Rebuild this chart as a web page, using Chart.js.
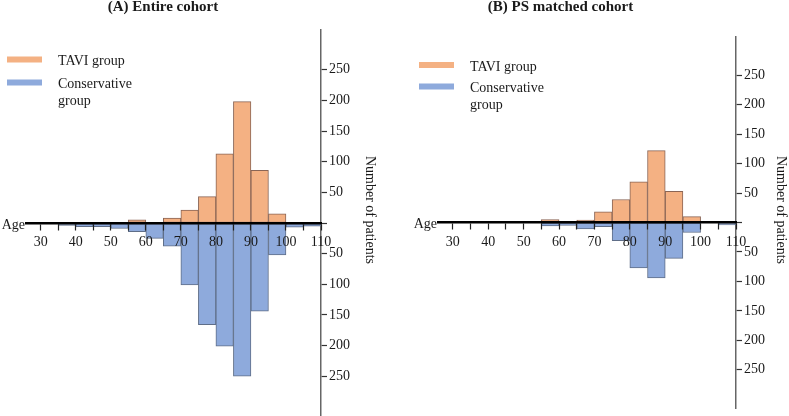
<!DOCTYPE html>
<html>
<head>
<meta charset="utf-8">
<script src="https://cdn.jsdelivr.net/npm/chart.js@4.4.1/dist/chart.umd.min.js"></script>
<style>
  html, body { margin: 0; padding: 0; background: #fff; overflow: hidden; }
  #wrap { position: relative; width: 789px; height: 416px; }
  .panel { position: absolute; top: 0; width: 394px; height: 416px; }
</style>
</head>
<body>
<div id="wrap">
  <div class="panel" style="left:0"><canvas id="chartA" width="394" height="416"></canvas></div>
  <div class="panel" style="left:395px"><canvas id="chartB" width="394" height="416"></canvas></div>
</div>
<script>
/* age bins are 5 years wide, value = bin midpoint */
const ageMid = [37.5, 42.5, 47.5, 52.5, 57.5, 62.5, 67.5, 72.5, 77.5, 82.5, 87.5, 92.5, 97.5, 102.5, 107.5];

// (A) entire cohort, patients per bin
const taviA = [0, 0, 0, 0, 5, 0, 8, 21, 43, 113, 198, 86, 15, 0, 0];
const consA = [4, 6, 6, 9, 14, 25, 38, 101, 166, 201, 250, 144, 52, 7, 5];

// (B) PS matched cohort
const taviB = [0, 0, 0, 0, 5, 0, 4, 18, 39, 69, 122, 53, 10, 0, 0];
const consB = [0, 0, 0, 0, 6, 5, 11, 7, 31, 77, 94, 61, 17, 0, 4];

const yTicks = [-250, -200, -150, -100, -50, 0, 50, 100, 150, 200, 250];
const xTicks = [30, 35, 40, 45, 50, 55, 60, 65, 70, 75, 80, 85, 90, 95, 100, 105, 110];

const SERIF = "'Liberation Serif', 'Times New Roman', serif";
const INK = "#1a1a1a";
const ORANGE = "#f4b183", ORANGE_EDGE = "#8a6555";
const BLUE = "#8eaadc", BLUE_EDGE = "#5f6e88";

function wrapText(ctx, text, maxW) {
  if (ctx.measureText(text).width <= maxW) return [text];
  const words = text.split(" ");
  const lines = [];
  let cur = "";
  words.forEach(w => {
    const t = cur ? cur + " " + w : w;
    if (cur && ctx.measureText(t).width > maxW) { lines.push(cur); cur = w; } else cur = t;
  });
  if (cur) lines.push(cur);
  return lines;
}

/* titles, legend, "Age" and the y title */
const panelDecor = {
  id: "panelDecor",
  afterDraw(chart, args, o) {
    const { ctx, chartArea } = chart;
    const y0 = chart.scales.y.getPixelForValue(0);
    ctx.save();
    ctx.fillStyle = INK;
    ctx.textBaseline = "middle";

    ctx.font = "bold 15px " + SERIF;
    ctx.textAlign = "center";
    ctx.fillText(o.title, o.titleX, 7);

    ctx.font = "14px " + SERIF;
    ctx.textAlign = "right";
    ctx.fillText("Age", chartArea.left - 1, y0 + 2);

    ctx.save();
    ctx.translate(o.yTitleX, 210);
    ctx.rotate(Math.PI / 2);
    ctx.textAlign = "center";
    ctx.fillText("Number of patients", 0, 0);
    ctx.restore();

    ctx.textAlign = "left";
    chart.data.datasets.forEach((ds, i) => {
      const y = o.legendY + i * o.legendStep;
      ctx.fillStyle = ds.backgroundColor;
      ctx.fillRect(o.legendX, y - 3, 35, 6);
      ctx.fillStyle = INK;
      wrapText(ctx, ds.label, 100).forEach((line, j) => {
        ctx.fillText(line, o.legendX + 51, y + 2 + j * 17);
      });
    });
    ctx.restore();
  }
};

function makePanel(id, tavi, cons, deco, pad, yWidth) {
  const ctx = document.getElementById(id);
  return new Chart(ctx, {
    type: "bar",
    data: {
      datasets: [
        { label: "TAVI group", data: ageMid.map((a, i) => ({ x: a, y: tavi[i] })),
          backgroundColor: ORANGE, borderColor: ORANGE_EDGE, borderWidth: 1, borderSkipped: false,
          grouped: false, barPercentage: 1, categoryPercentage: 1 },
        { label: "Conservative group", data: ageMid.map((a, i) => ({ x: a, y: -cons[i] })),
          backgroundColor: BLUE, borderColor: BLUE_EDGE, borderWidth: 1, borderSkipped: false,
          grouped: false, barPercentage: 1, categoryPercentage: 1 }
      ]
    },
    options: {
      responsive: false,
      animation: false,
      events: [],
      layout: { padding: pad },
      plugins: { legend: { display: false }, tooltip: { enabled: false }, panelDecor: deco },
      scales: {
        x: {
          type: "linear", position: { y: 0 }, min: 25.8, max: 110, offset: false,
          afterBuildTicks: s => { s.ticks = xTicks.map(v => ({ value: v })); },
          afterFit: s => { s.height = 0; s.paddingLeft = 0; s.paddingRight = 0; },
          ticks: { z: 1, autoSkip: false, maxRotation: 0, padding: 5, color: INK,
            font: { family: SERIF, size: 14 },
            callback: v => (v % 10 === 0 ? String(v) : "") },
          grid: { z: 1, drawOnChartArea: false, offset: false, tickLength: 6, tickColor: "#222", tickWidth: 1.2 },
          border: { z: 1, color: "#000", width: 2.5 }
        },
        y: {
          position: "right", min: -315, max: 315,
          afterBuildTicks: s => { s.ticks = yTicks.map(v => ({ value: v })); },
          afterFit: s => { s.width = yWidth; s.paddingTop = 0; s.paddingBottom = 0; },
          ticks: { padding: 2, color: INK, font: { family: SERIF, size: 14 },
            callback: v => (v === 0 ? "" : String(Math.abs(v))) },
          grid: { drawOnChartArea: false, tickLength: 6, tickColor: "#333", tickWidth: 1.2 },
          border: { color: "#666", width: 1.5 }
        }
      }
    },
    plugins: [panelDecor]
  });
}

makePanel("chartA", taviA, consA,
  { title: "(A) Entire cohort", titleX: 163, yTitleX: 370, legendX: 7, legendY: 59.5, legendStep: 23 },
  { left: 26, top: 30, right: 0, bottom: 0 }, 73);

makePanel("chartB", taviB, consB,
  { title: "(B) PS matched cohort", titleX: 165.5, yTitleX: 386, legendX: 24, legendY: 65, legendStep: 21.5 },
  { left: 43, top: 37, right: 0, bottom: 8 }, 53);
</script>
</body>
</html>
